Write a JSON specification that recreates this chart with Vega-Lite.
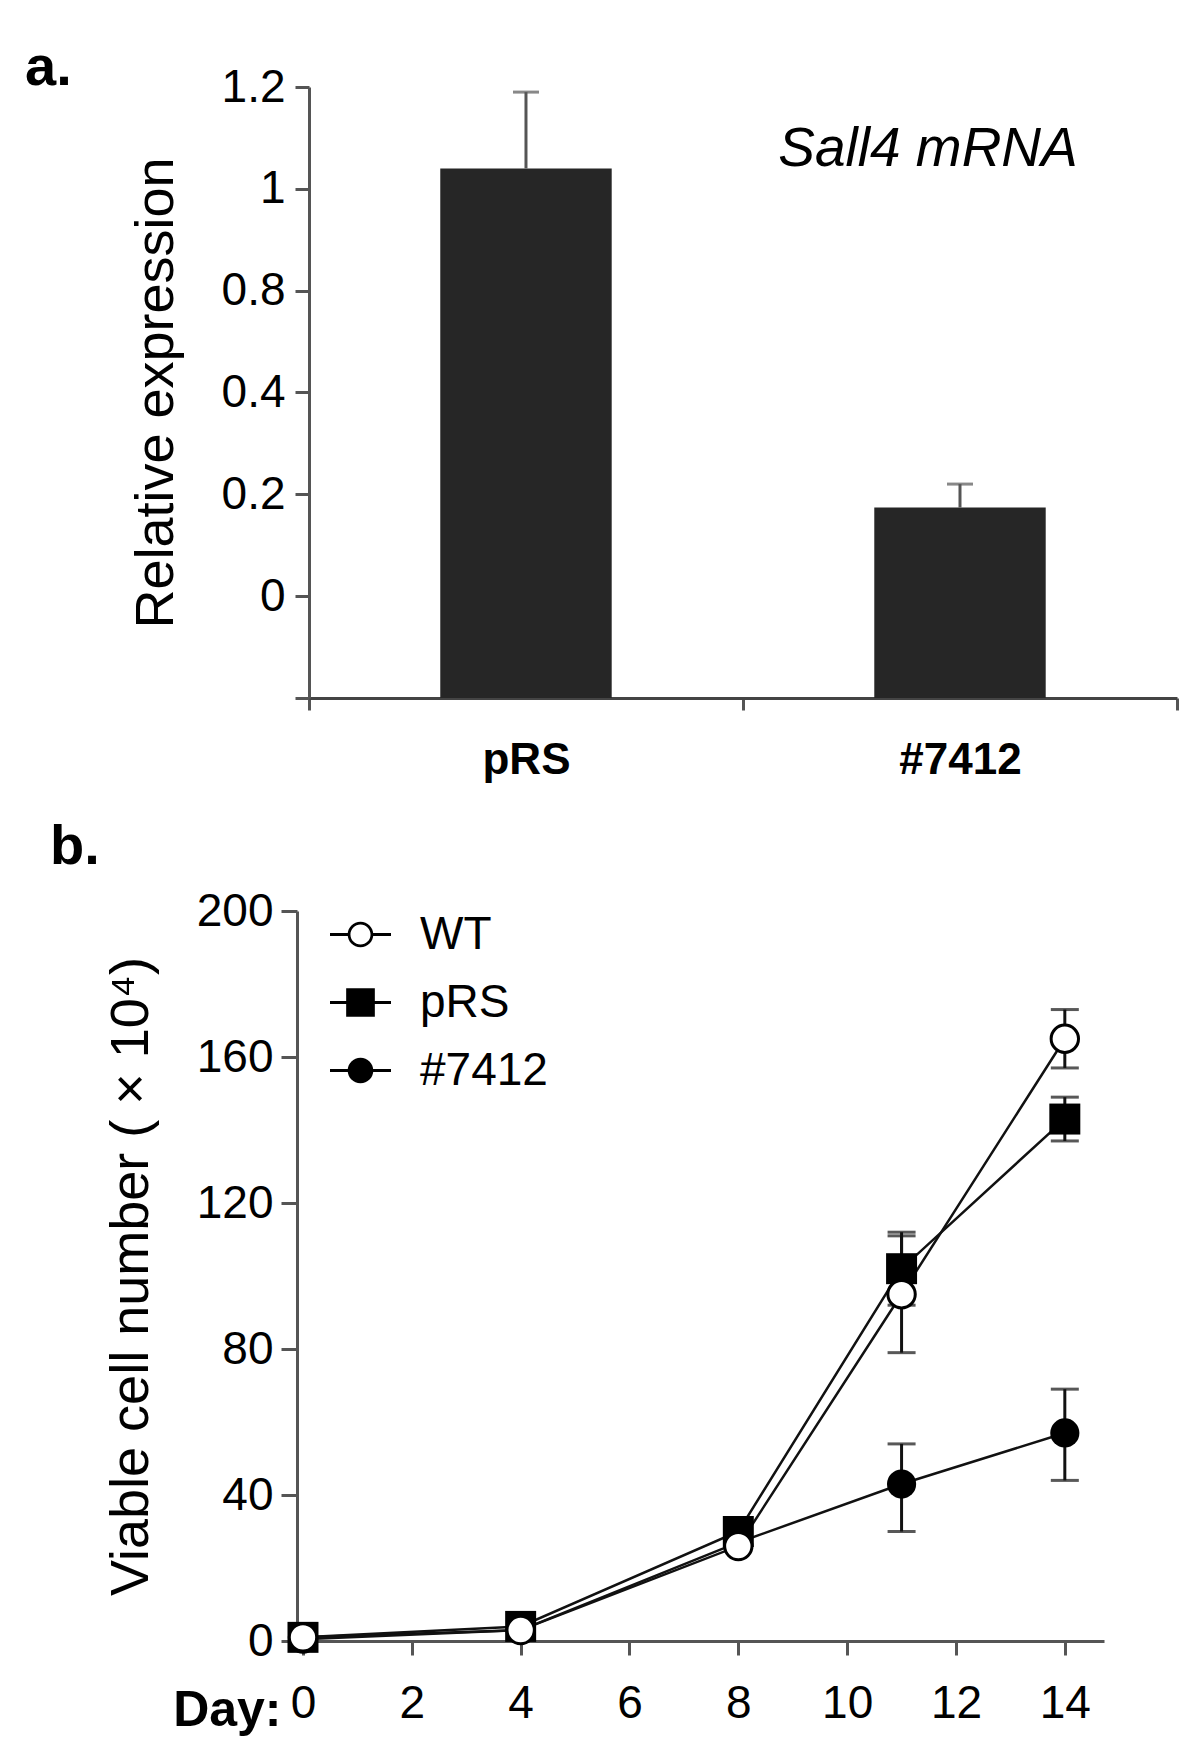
{
  "$schema": "https://vega.github.io/schema/vega-lite/v6.json",
  "background": "white",
  "padding": {"left": 25, "top": 40, "right": 5, "bottom": 5},
  "config": {
    "font": "Liberation Sans",
    "view": {"stroke": null},
    "axis": {
      "domainColor": "#555", "domainWidth": 3, "tickColor": "#555", "tickWidth": 3, "tickSize": 14,
      "labelColor": "#000", "labelFontSize": 46, "labelFont": "Liberation Sans",
      "titleFont": "Liberation Sans", "titleColor": "#000", "titleFontWeight": "normal", "grid": false
    },
    "title": {"font": "Liberation Sans", "color": "#000"}
  },
  "datasets": {
    "bars": [
      {"group": "pRS", "value": 1.04, "hi": 1.19},
      {"group": "#7412", "value": 0.174, "hi": 0.22}
    ],
    "growth": [
      {"series": "WT", "day": 0, "value": 1},
      {"series": "WT", "day": 4, "value": 3},
      {"series": "WT", "day": 8, "value": 26},
      {"series": "WT", "day": 11, "value": 95},
      {"series": "WT", "day": 14, "value": 165},
      {"series": "pRS", "day": 0, "value": 1},
      {"series": "pRS", "day": 4, "value": 4},
      {"series": "pRS", "day": 8, "value": 30},
      {"series": "pRS", "day": 11, "value": 102},
      {"series": "pRS", "day": 14, "value": 143},
      {"series": "#7412", "day": 0, "value": 0.5},
      {"series": "#7412", "day": 4, "value": 3},
      {"series": "#7412", "day": 8, "value": 27},
      {"series": "#7412", "day": 11, "value": 43},
      {"series": "#7412", "day": 14, "value": 57}
    ],
    "err": [
      {"series": "WT", "day": 11, "lo": 79, "hi": 111},
      {"series": "WT", "day": 14, "lo": 157, "hi": 173},
      {"series": "pRS", "day": 11, "lo": 92, "hi": 112},
      {"series": "pRS", "day": 14, "lo": 137, "hi": 149},
      {"series": "#7412", "day": 11, "lo": 30, "hi": 54},
      {"series": "#7412", "day": 14, "lo": 44, "hi": 69}
    ]
  },
  "bounds": "flush",
  "spacing": 213,
  "resolve": {"scale": {"shape": "independent"}, "legend": {"shape": "independent"}},
  "vconcat": [
    {
      "width": 880,
      "height": 611,
      "title": {"text": "a.", "anchor": "start", "frame": "group", "dx": -272, "fontSize": 56, "fontWeight": "bold", "offset": 0, "dy": 33},
      "data": {"name": "bars"},
      "layer": [
        {
          "mark": {"type": "bar", "color": "#262626", "width": {"band": 0.395}},
          "encoding": {
            "x": {"field": "group", "type": "nominal", "sort": ["pRS", "#7412"],
              "scale": {"paddingInner": 0, "paddingOuter": 0.0138, "align": 1},
              "axis": {"title": null, "labelAngle": 0, "labelFontWeight": "bold", "labelFontSize": 44, "tickBand": "extent", "labelPadding": 28, "domainColor": "#444", "tickSize": 12}},
            "y": {"field": "value", "type": "quantitative",
              "scale": {"domain": [-0.2, 0.4, 0.8, 1.2], "range": [611, 305.4, 203.6, 0]},
              "axis": {"values": [-0.2, 0, 0.2, 0.4, 0.8, 1, 1.2], "format": "~g", "labelExpr": "datum.value < -0.1 ? '' : datum.label", "offset": -12, "labelPadding": 10, "title": "Relative expression", "titleFontSize": 54, "titlePadding": 38}},
            "y2": {"datum": -0.2}
          }
        },
        {
          "mark": {"type": "rule", "color": "#555", "strokeWidth": 3},
          "encoding": {
            "x": {"field": "group", "type": "nominal", "sort": ["pRS", "#7412"]},
            "y": {"field": "value", "type": "quantitative"},
            "y2": {"field": "hi"}
          }
        },
        {
          "mark": {"type": "tick", "color": "#555", "thickness": 3, "size": 26, "orient": "horizontal"},
          "encoding": {
            "x": {"field": "group", "type": "nominal", "sort": ["pRS", "#7412"]},
            "y": {"field": "hi", "type": "quantitative"}
          }
        },
        {
          "data": {"values": [{"group": "#7412", "value": 1.045, "label": "Sall4 mRNA"}]},
          "mark": {"type": "text", "fontSize": 55, "fontStyle": "italic", "dx": -32, "align": "center", "baseline": "alphabetic", "color": "#000"},
          "encoding": {
            "x": {"field": "group", "type": "nominal", "sort": ["pRS", "#7412"]},
            "y": {"field": "value", "type": "quantitative"},
            "text": {"field": "label"}
          }
        }
      ]
    },
    {
      "width": 807,
      "height": 730,
      "title": {"text": "b.", "anchor": "start", "frame": "group", "dx": -247, "fontSize": 56, "fontWeight": "bold", "offset": 0, "dy": -12},
      "data": {"name": "growth"},
      "encoding": {
        "x": {"field": "day", "type": "quantitative",
          "scale": {"domain": [-0.11, 14.72], "nice": false, "zero": false},
          "axis": {"values": [0, 2, 4, 6, 8, 10, 12, 14], "labelPadding": 26, "title": "Day:", "titleFontWeight": "bold", "titleFontSize": 50, "titleAngle": 0, "titleAlign": "right", "titleBaseline": "alphabetic", "titleX": -16, "titleY": 84}},
        "y": {"field": "value", "type": "quantitative",
          "scale": {"domain": [0, 200], "nice": false},
          "axis": {"values": [0, 40, 80, 120, 160, 200], "labelPadding": 8, "tickSize": 16, "title": "Viable cell number ( × 10⁴)", "titleFontSize": 54, "titlePadding": 38}}
      },
      "layer": [
        {
          "data": {"name": "err"},
          "mark": {"type": "rule", "color": "#111", "strokeWidth": 3},
          "encoding": {"y": {"field": "lo", "type": "quantitative"}, "y2": {"field": "hi"}}
        },
        {
          "data": {"name": "err"},
          "mark": {"type": "tick", "color": "#111", "thickness": 3, "size": 28, "orient": "horizontal"},
          "encoding": {"y": {"field": "lo", "type": "quantitative"}}
        },
        {
          "data": {"name": "err"},
          "mark": {"type": "tick", "color": "#111", "thickness": 3, "size": 28, "orient": "horizontal"},
          "encoding": {"y": {"field": "hi", "type": "quantitative"}}
        },
        {
          "mark": {"type": "line", "color": "#111", "strokeWidth": 2.5},
          "encoding": {"detail": {"field": "series"}}
        },
        {
          "transform": [{"filter": "datum.series === '#7412'"}],
          "mark": {"type": "circle", "size": 850, "color": "#000", "opacity": 1}
        },
        {
          "transform": [{"filter": "datum.series === 'pRS'"}],
          "mark": {"type": "square", "size": 960, "color": "#000", "opacity": 1}
        },
        {
          "transform": [{"filter": "datum.series === 'WT'"}],
          "mark": {"type": "point", "shape": "circle", "size": 750, "filled": false, "fill": "white", "stroke": "#000", "strokeWidth": 3, "opacity": 1}
        },
        {
          "transform": [{"filter": "false"}],
          "mark": {"type": "point", "filled": true, "color": "#000", "strokeWidth": 0, "opacity": 1},
          "encoding": {
            "x": null, "y": null,
            "shape": {"field": "series", "type": "nominal",
              "scale": {"domain": ["WT", "pRS", "#7412"],
                "range": [
                  "M-1,-0.05H-0.38V0.05H-1ZM0.38,-0.05H1V0.05H0.38ZM-0.42,0A0.42,0.42,0,1,1,0.42,0A0.42,0.42,0,1,1,-0.42,0ZM-0.33,0A0.33,0.33,0,1,0,0.33,0A0.33,0.33,0,1,0,-0.33,0Z",
                  "M-1,-0.05H-0.45V0.05H-1ZM0.45,-0.05H1V0.05H0.45ZM-0.47,-0.47H0.47V0.47H-0.47Z",
                  "M-1,-0.05H-0.4V0.05H-1ZM0.4,-0.05H1V0.05H0.4ZM-0.42,0A0.42,0.42,0,1,1,0.42,0A0.42,0.42,0,1,1,-0.42,0Z"
                ]},
              "legend": {"orient": "none", "legendX": 33, "legendY": -7, "title": null, "symbolSize": 3721, "labelFontSize": 46, "labelColor": "#000", "labelOffset": 29, "rowPadding": 14, "padding": 0, "symbolStrokeWidth": 0, "symbolFillColor": "#000"}}
          }
        }
      ]
    }
  ]
}
